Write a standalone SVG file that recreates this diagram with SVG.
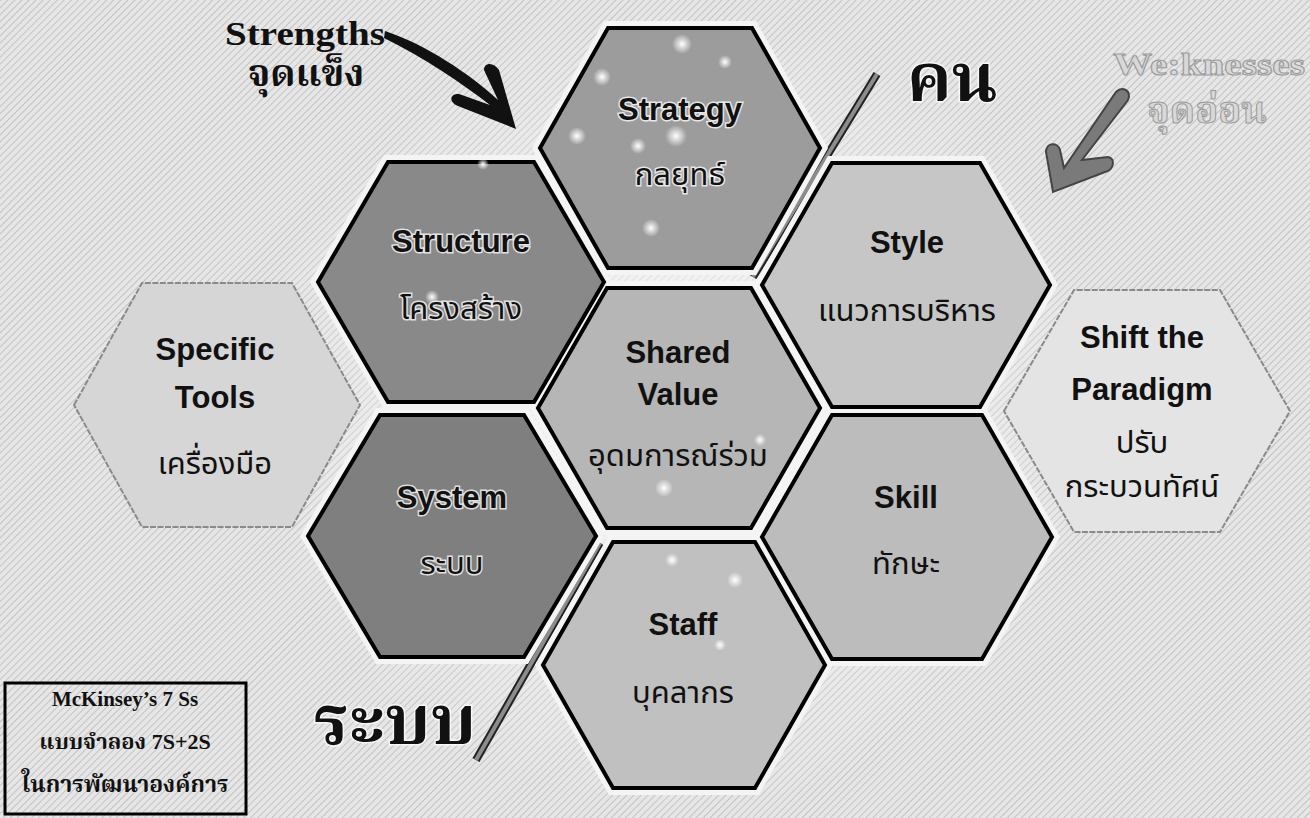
<svg xmlns="http://www.w3.org/2000/svg" width="1310" height="818" viewBox="0 0 1310 818">
<defs>
<pattern id="hatch" width="5" height="5" patternUnits="userSpaceOnUse" patternTransform="rotate(45)">
<rect width="5" height="5" fill="#e6e6e6"/>
<line x1="0" y1="0" x2="0" y2="5" stroke="#b0b0b0" stroke-width="1.3"/>
</pattern>
<radialGradient id="spark">
<stop offset="0" stop-color="#fff" stop-opacity="1"/>
<stop offset="0.4" stop-color="#fff" stop-opacity="0.6"/>
<stop offset="1" stop-color="#fff" stop-opacity="0"/>
</radialGradient>
<radialGradient id="glow" cx="0.5" cy="0.5" r="0.5">
<stop offset="0" stop-color="#fafafa" stop-opacity="0.85"/>
<stop offset="1" stop-color="#fafafa" stop-opacity="0"/>
</radialGradient>
</defs>
<style>
.hex{stroke:#000;stroke-width:4;stroke-linejoin:miter}
.gap{fill:none;stroke:#f4f4f4;stroke-width:14;stroke-linejoin:miter}
.soft{stroke:#8a8a8a;stroke-width:2;stroke-dasharray:6 1.5}
.en{font-family:"Liberation Sans",Arial,sans-serif;font-weight:bold;font-size:31px;text-anchor:middle;fill:#111}
.th{font-family:"Noto Sans Thai","Noto Sans","DejaVu Sans",sans-serif;font-size:31px;text-anchor:middle;fill:#111}
.halo{stroke:#fff;stroke-width:3;stroke-opacity:0.75;paint-order:stroke}
.ser{font-family:"Liberation Serif","Noto Serif Thai","Noto Sans Thai",serif;font-weight:bold;fill:#111}
.div{stroke:#222;stroke-width:8;stroke-linecap:butt}
.divin{stroke:#8c8c8c;stroke-width:4}
</style>
<rect width="1310" height="818" fill="url(#hatch)"/>
<ellipse cx="680" cy="410" rx="430" ry="400" fill="url(#glow)"/>

<g id="connectors">
<line class="div" x1="877" y1="74" x2="753" y2="277"/>
<line class="divin" x1="877" y1="74" x2="753" y2="277"/>
<line class="div" x1="600" y1="543" x2="476" y2="760"/>
<line class="divin" x1="600" y1="543" x2="476" y2="760"/>
</g>

<g id="gaps">
<polygon class="gap" points="540,148 608,28 752,28 820,148 752,268 608,268"/>
<polygon class="gap" points="318,282 388,162 534,162 604,282 534,402 388,402"/>
<polygon class="gap" points="538,408 607,288 751,288 820,408 751,528 607,528"/>
<polygon class="gap" points="308,536 380,415 524,415 596,536 524,657 380,657"/>
<polygon class="gap" points="762,285 832,163 980,163 1050,285 980,407 832,407"/>
<polygon class="gap" points="762,537 832,415 982,415 1052,537 982,659 832,659"/>
<polygon class="gap" points="543,665 613,542 755,542 825,665 755,788 613,788"/>
</g>

<g id="strategy">
<polygon class="hex" fill="#9c9c9c" points="540,148 608,28 752,28 820,148 752,268 608,268"/>
<circle cx="682" cy="44" r="10" fill="url(#spark)"/>
<circle cx="602" cy="77" r="9" fill="url(#spark)"/>
<circle cx="725" cy="62" r="7" fill="url(#spark)"/>
<circle cx="577" cy="136" r="9" fill="url(#spark)"/>
<circle cx="676" cy="136" r="11" fill="url(#spark)"/>
<circle cx="638" cy="146" r="8" fill="url(#spark)"/>
<circle cx="651" cy="228" r="9" fill="url(#spark)"/>
<circle cx="712" cy="176" r="6" fill="url(#spark)"/>
<text class="en halo" x="680" y="120">Strategy</text>
<text class="th halo" x="680" y="185">กลยุทธ์</text>
</g>

<g id="structure">
<polygon class="hex" fill="#898989" points="318,282 388,162 534,162 604,282 534,402 388,402"/>
<circle cx="483" cy="164" r="6" fill="url(#spark)"/>
<circle cx="432" cy="297" r="7" fill="url(#spark)"/>
<text class="en halo" x="461" y="252">Structure</text>
<text class="th halo" x="461" y="319">โครงสร้าง</text>
</g>

<g id="shared-value">
<polygon class="hex" fill="#b6b6b6" points="538,408 607,288 751,288 820,408 751,528 607,528"/>
<circle cx="664" cy="488" r="9" fill="url(#spark)"/>
<circle cx="760" cy="440" r="6" fill="url(#spark)"/>
<text class="en" x="678" y="363">Shared</text>
<text class="en" x="678" y="405">Value</text>
<text class="th" x="678" y="466">อุดมการณ์ร่วม</text>
</g>

<g id="system">
<polygon class="hex" fill="#7f7f7f" points="308,536 380,415 524,415 596,536 524,657 380,657"/>
<text class="en halo" x="452" y="508">System</text>
<text class="th halo" x="452" y="574">ระบบ</text>
</g>

<g id="style">
<polygon class="hex" fill="#c6c6c6" points="762,285 832,163 980,163 1050,285 980,407 832,407"/>
<text class="en" x="907" y="253">Style</text>
<text class="th" x="907" y="321">แนวการบริหาร</text>
</g>

<g id="skill">
<polygon class="hex" fill="#bcbcbc" points="762,537 832,415 982,415 1052,537 982,659 832,659"/>
<text class="en" x="906" y="508">Skill</text>
<text class="th" x="906" y="574">ทักษะ</text>
</g>

<g id="staff">
<polygon class="hex" fill="#c0c0c0" points="543,665 613,542 755,542 825,665 755,788 613,788"/>
<circle cx="672" cy="560" r="7" fill="url(#spark)"/>
<circle cx="735" cy="580" r="8" fill="url(#spark)"/>
<circle cx="720" cy="645" r="6" fill="url(#spark)"/>
<text class="en" x="683" y="635">Staff</text>
<text class="th" x="683" y="703">บุคลากร</text>
</g>

<g id="specific-tools">
<polygon class="soft" fill="#d6d6d6" points="74,405 142,283 292,283 360,405 292,527 142,527"/>
<text class="en" x="215" y="360">Specific</text>
<text class="en" x="215" y="408">Tools</text>
<text class="th" x="215" y="474">เครื่องมือ</text>
</g>

<g id="shift-paradigm">
<polygon class="soft" fill="#e4e4e4" points="1004,411 1074,290 1220,290 1290,411 1220,532 1074,532"/>
<text class="en" x="1142" y="348">Shift the</text>
<text class="en" x="1142" y="400">Paradigm</text>
<text class="th" x="1142" y="453">ปรับ</text>
<text class="th" x="1142" y="497">กระบวนทัศน์</text>
</g>

<g id="strengths">
<text class="ser" x="305" y="45" font-size="34" text-anchor="middle" textLength="160" lengthAdjust="spacingAndGlyphs">Strengths</text>
<text class="ser" x="306" y="86" font-size="38" font-weight="normal" text-anchor="middle">จุดแข็ง</text>
<path d="M385,31 C425,44 470,74 498,100 L484,70 C484,62 494,62 499,70 L516,129 L458,106 C448,102 450,93 459,94 L490,105 C460,82 425,58 384,38 Z" fill="#111"/>
</g>

<g id="weaknesses">
<text x="1209" y="75" font-family="Liberation Serif,serif" font-weight="bold" font-size="32" text-anchor="middle" textLength="192" lengthAdjust="spacingAndGlyphs" fill="#d8d8d8" stroke="#9a9a9a" stroke-width="1">We:knesses</text>
<text x="1207" y="123" font-family="Noto Serif Thai,Noto Sans Thai,serif" font-weight="bold" font-size="38" text-anchor="middle" fill="#d8d8d8" stroke="#9a9a9a" stroke-width="1">จุดอ่อน</text>
<path d="M1116,92 C1122,86 1132,90 1128,100 L1082,160 L1108,157 C1116,158 1114,170 1105,172 L1053,192 L1046,152 C1046,142 1058,142 1060,150 L1064,168 Z" fill="#7a7a7a" stroke="#444" stroke-width="2"/>
</g>

<g id="kon">
<text class="ser halo" x="952" y="101" font-size="68" text-anchor="middle">คน</text>
</g>

<g id="rabob">
<text class="ser halo" x="395" y="744" font-size="70" text-anchor="middle">ระบบ</text>
</g>

<g id="legend">
<rect x="5" y="683" width="241" height="131" fill="none" stroke="#000" stroke-width="3"/>
<text class="ser" x="125" y="706" font-size="21" text-anchor="middle">McKinsey’s 7 Ss</text>
<text class="ser" x="125" y="749" font-size="22" font-weight="normal" text-anchor="middle">แบบจำลอง 7S+2S</text>
<text class="ser" x="125" y="792" font-size="23" font-weight="normal" text-anchor="middle">ในการพัฒนาองค์การ</text>
</g>
</svg>
